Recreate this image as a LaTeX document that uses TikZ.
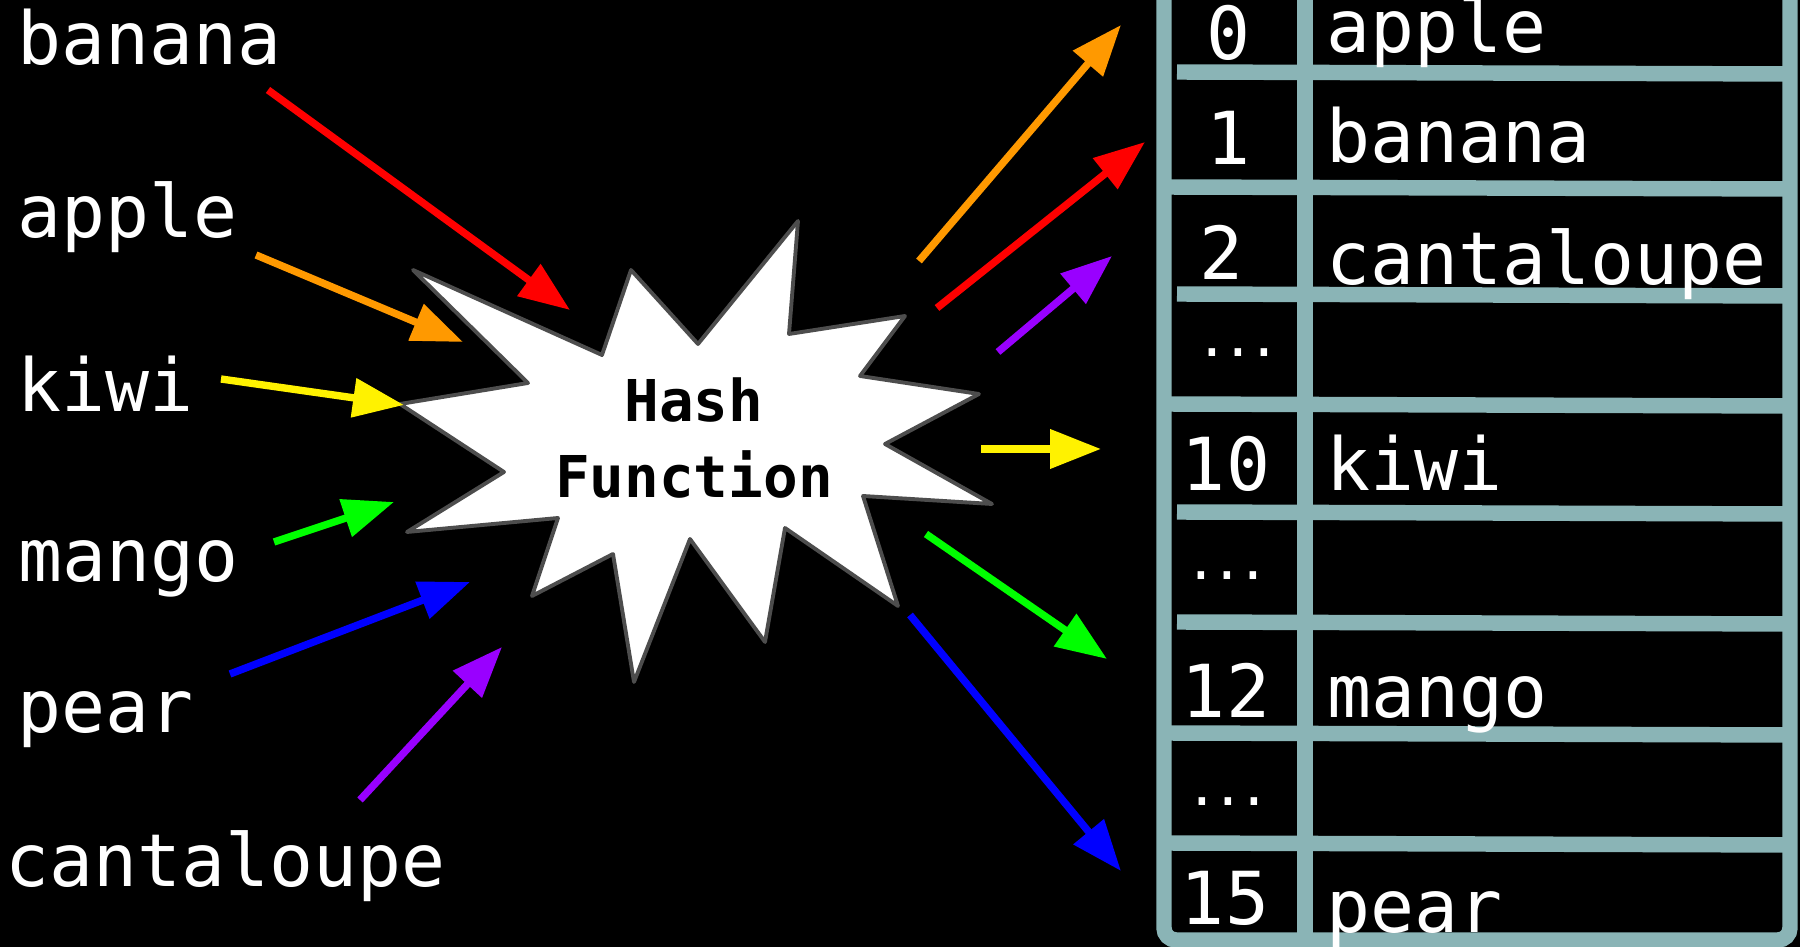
\documentclass[tikz,border=0pt]{standalone}
\usepackage{fontspec}
\setmonofont{DejaVu Sans Mono}
\usetikzlibrary{arrows.meta,calc}
\usepackage{tkz-euclide}
\definecolor{GridClr}{RGB}{138,180,182}
\definecolor{StarClr}{RGB}{77,77,77}
\definecolor{OrangeArr}{RGB}{255,153,0}
\definecolor{PurpleArr}{RGB}{153,0,255}
\definecolor{GreenArr}{RGB}{0,255,0}

\tikzset{
  fruit/.style={font=\ttfamily\fontsize{20.8}{25}\selectfont,text=white,inner sep=0pt,anchor=base west},
  slot/.style={font=\ttfamily\fontsize{20.8}{25}\selectfont,text=white,inner sep=0pt,anchor=base},
  skipslot/.style={font=\ttfamily\fontsize{15}{18}\selectfont,text=white,inner sep=0pt,anchor=base},
  hashtxt/.style={font=\ttfamily\bfseries\fontsize{16.4}{20}\selectfont,text=black,inner sep=0pt,anchor=base},
  feed/.style={line width=2.1pt,line cap=butt,-{Triangle[length=14.5pt,width=10.8pt]}},
  cell/.style={GridClr,line width=4.4pt}
}
\newcommand{\skipdots}{.\kern-1.6pt.\kern-1.6pt.}

\begin{document}
\begin{tikzpicture}
\useasboundingbox (0,0) rectangle (18,9.47);
\fill[black] (0,0) rectangle (18,9.47);
\tkzSetUpLine[line width=2.1pt,color=black]

% the burst
\tkzDefPoints{4.13/6.77/S1,6.02/5.92/S2,6.31/6.77/S3,6.98/6.03/S4,7.98/7.26/S5,7.89/6.13/S6,
  9.05/6.31/S7,8.60/5.71/S8,9.79/5.53/S9,8.85/5.03/S10,9.92/4.43/S11,8.63/4.51/S12,
  8.98/3.41/S13,7.85/4.19/S14,7.65/3.05/S15,6.90/4.08/S16,6.34/2.65/S17,6.13/3.93/S18,
  5.32/3.51/S19,5.58/4.29/S20,4.07/4.15/S21,5.04/4.75/S22,4.00/5.43/S23,5.28/5.64/S24}

\tkzFillPolygon[fill=white](S1,S2,S3,S4,S5,S6,S7,S8,S9,S10,S11,S12,S13,S14,S15,S16,S17,S18,S19,S20,S21,S22,S23,S24)
\tkzDrawPolygon[color=StarClr,line width=1.1pt](S1,S2,S3,S4,S5,S6,S7,S8,S9,S10,S11,S12,S13,S14,S15,S16,S17,S18,S19,S20,S21,S22,S23,S24)

\node[hashtxt] (hashA) at (6.94,5.25) {Hash};
\node[hashtxt] (hashB) at (6.94,4.49) {Function};

% keys going in
\tkzDefPoints{2.68/8.57/a1,5.70/6.37/a2,2.56/6.92/a3,4.63/6.05/a4,2.21/5.68/a5,4.04/5.42/a6,
  2.74/4.05/a7,3.94/4.45/a8,2.30/2.73/a9,4.70/3.65/a10,3.60/1.47/a11,5.02/3.00/a12}

\tkzDrawSegments[feed,color=red](a1,a2)
\tkzDrawSegments[feed,color=OrangeArr](a3,a4)
\tkzDrawSegments[feed,color=yellow](a5,a6)
\tkzDrawSegments[feed,color=GreenArr](a7,a8)
\tkzDrawSegments[feed,color=blue](a9,a10)
\tkzDrawSegments[feed,color=PurpleArr](a11,a12)

% slots coming out
\tkzDefPoints{9.19/6.86/b1,11.21/9.22/b2,9.37/6.39/b3,11.45/8.05/b4,9.98/5.95/b5,11.12/6.91/b6,
  9.81/4.98/b7,11.01/4.98/b8,9.26/4.13/b9,11.07/2.88/b10,9.10/3.32/b11,11.21/0.76/b12}

\tkzDrawSegments[feed,color=OrangeArr](b1,b2)
\tkzDrawSegments[feed,color=red](b3,b4)
\tkzDrawSegments[feed,color=PurpleArr](b5,b6)
\tkzDrawSegments[feed,color=yellow](b7,b8)
\tkzDrawSegments[feed,color=GreenArr](b9,b10)
\tkzDrawSegments[feed,color=blue](b11,b12)

\node[fruit] (inBanana) at (0.17,8.82) {banana};
\node[fruit] (inApple) at (0.17,7.09) {apple};
\node[fruit] (inKiwi) at (0.17,5.35) {kiwi};
\node[fruit] (inMango) at (0.18,3.65) {mango};
\node[fruit] (inPear) at (0.17,2.14) {pear};
\node[fruit] (inCantaloupe) at (0.05,0.60) {cantaloupe};

% the table
\draw[cell,rounded corners=0.12cm] (11.64,9.6) -- (11.64,0.07) -- (17.90,0.07) -- (17.90,9.6);
\draw[cell] (13.05,9.6) -- (13.05,0.07);
\draw[cell] (11.77,8.75) -- (17.90,8.73);
\draw[cell] (11.64,7.60) -- (17.90,7.58);
\draw[cell] (11.77,6.53) -- (17.90,6.51);
\draw[cell] (11.64,5.43) -- (17.90,5.41);
\draw[cell] (11.77,4.35) -- (17.90,4.33);
\draw[cell] (11.77,3.25) -- (17.90,3.23);
\draw[cell] (11.64,2.14) -- (17.90,2.12);
\draw[cell] (11.64,1.04) -- (17.90,1.02);

\node[slot] (k0) at (12.29,8.87) {0};
\node[slot] (k1) at (12.28,7.82) {1};
\node[slot] (k2) at (12.21,6.67) {2};
\node[skipslot] (kA) at (12.38,5.90) {\skipdots};
\node[slot] (k10) at (12.26,4.56) {10};
\node[skipslot] (kB) at (12.27,3.67) {\skipdots};
\node[slot] (k12) at (12.26,2.29) {12};
\node[skipslot] (kC) at (12.28,1.41) {\skipdots};
\node[slot] (k15) at (12.25,0.22) {15};

\node[fruit] (vApple) at (13.26,8.94) {apple};
\node[fruit] (vBanana) at (13.26,7.84) {banana};
\node[fruit] (vCantaloupe) at (13.26,6.62) {cantaloupe};
\node[fruit] (vKiwi) at (13.26,4.56) {kiwi};
\node[fruit] (vMango) at (13.27,2.29) {mango};
\node[fruit] (vPear) at (13.26,0.14) {pear};

\end{tikzpicture}
\end{document}
